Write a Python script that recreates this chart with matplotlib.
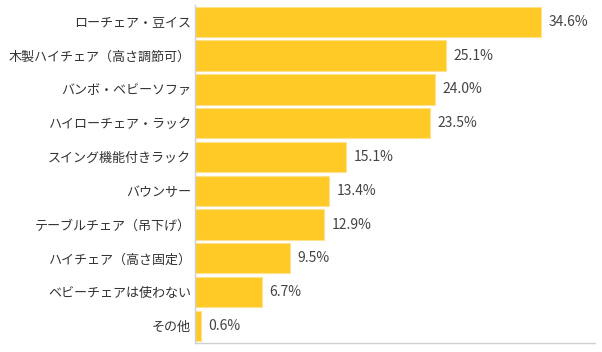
import matplotlib
matplotlib.use("Agg")
import matplotlib.pyplot as plt

plt.rcParams['font.family'] = ['Noto Sans CJK JP', 'DejaVu Sans']

categories = ["ローチェア・豆イス", "木製ハイチェア（高さ調節可）", "バンボ・ベビーソファ",
              "ハイローチェア・ラック", "スイング機能付きラック", "バウンサー",
              "テーブルチェア（吊下げ）", "ハイチェア（高さ固定）", "ベビーチェアは使わない", "その他"]
values = [34.6, 25.1, 24.0, 23.5, 15.1, 13.4, 12.9, 9.5, 6.7, 0.6]

fig = plt.figure(figsize=(6.02, 3.52), dpi=100)
ax = fig.add_axes([195/602, 9.3/352, 400/602, (342.7-5)/352])
ys = list(range(len(categories)))
ax.barh(ys, values, height=0.9, color='#FFC926', edgecolor='#FFE08C', linewidth=0.8)
for y, v in zip(ys, values):
    ax.text(v + 0.75, y, f"{v:.1f}%", va='center', ha='left', fontsize=10, color='#444444')
ax.set_yticks(ys)
ax.set_yticklabels(categories, fontsize=9.4, color='#333333')
ax.tick_params(axis='y', length=0, pad=3)
ax.set_xticks([])
ax.set_xlim(0, 40)
ax.set_ylim(len(categories) - 0.5, -0.5)
for s in ['top', 'right']:
    ax.spines[s].set_visible(False)
for s in ['left', 'bottom']:
    ax.spines[s].set_color('#d0d0d0')
    ax.spines[s].set_linewidth(1)
fig.savefig("out.png", dpi=100)
